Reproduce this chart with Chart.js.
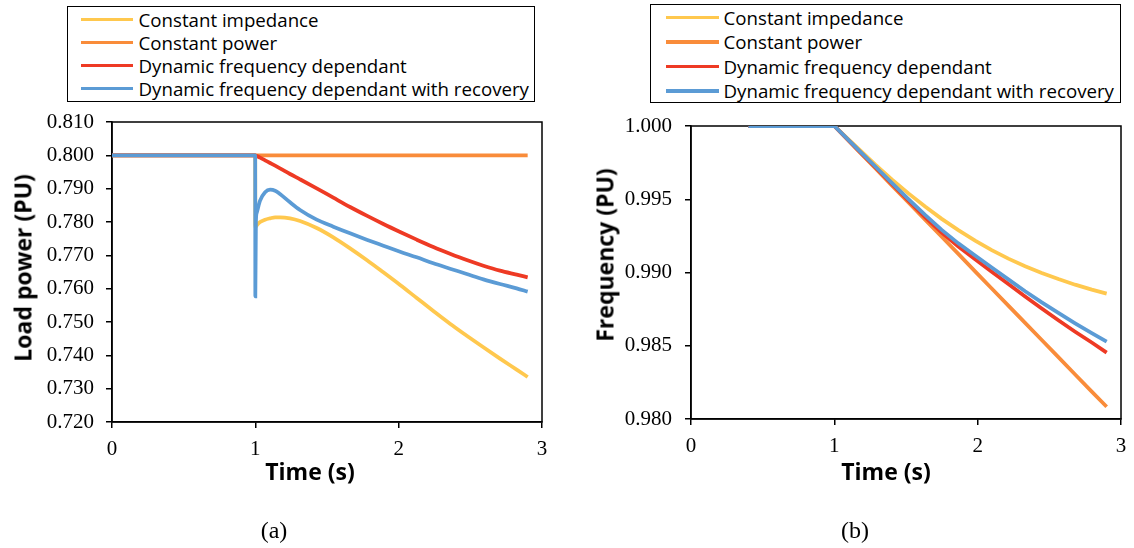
<!DOCTYPE html>
<html>
<head>
<meta charset="utf-8">
<title>Load power and frequency response</title>
<script src="https://cdn.jsdelivr.net/npm/chart.js@4.4.1/dist/chart.umd.min.js"></script>
<style>
  html, body { margin: 0; padding: 0; background: #fff; }
  body { position: relative; width: 1134px; height: 548px; overflow: hidden; }
  canvas { position: absolute; top: 110px; }
  #chartA { left: 0; }
  #chartB { left: 567px; }
  .legend {
    position: absolute; box-sizing: border-box; border: 1.5px solid #000; background: #fff;
    font-family: 'Open Sans', sans-serif; font-size: 18.7px; color: #000;
  }
  .legend .row { display: flex; align-items: center; white-space: nowrap; }
  .legend .swatch { flex: none; height: 3.5px; }
  .axis-title {
    position: absolute; font-family: 'Open Sans', sans-serif; font-weight: bold; font-size: 23px;
    line-height: 1; white-space: nowrap; color: #000; transform: translate(-50%, -50%);
  }
  .axis-title.vertical { transform: translate(-50%, -50%) rotate(-90deg); }
  .caption {
    position: absolute; font-family: 'Liberation Serif', 'Times New Roman', serif; font-size: 24px;
    line-height: 1; color: #000; transform: translate(-50%, -50%);
  }
</style>
</head>
<body>
<canvas id="chartA" width="567" height="390" style="width:567px;height:390px"></canvas>
<canvas id="chartB" width="567" height="390" style="width:567px;height:390px"></canvas>

<div id="legendA" class="legend" style="left:67px; top:6px; width:468px; height:96px; padding-top:1px;"></div>
<div id="legendB" class="legend" style="left:650px; top:4px; width:471px; height:99px; padding-top:0;"></div>

<div class="axis-title vertical" style="left:23px; top:268px;">Load power (PU)</div>
<div class="axis-title" style="left:310px; top:471px;">Time (s)</div>
<div class="axis-title vertical" style="left:605px; top:255px;">Frequency (PU)</div>
<div class="axis-title" style="left:886px; top:471px;">Time (s)</div>

<div class="caption" style="left:274px; top:530px;">(a)</div>
<div class="caption" style="left:855px; top:530px;">(b)</div>

<script>
// series shared by both plots
const seriesNames = [
  'Constant impedance',
  'Constant power',
  'Dynamic frequency dependant',
  'Dynamic frequency dependant with recovery'
];
const seriesColors = ['#FFC84E', '#F98C3A', '#EE3A24', '#5B9BD5'];

// (a) load power, PU
const timeLoad = [0, 0.999, 1.0, 1.004, 1.01, 1.033, 1.068, 1.103, 1.138, 1.172, 1.242, 1.312, 1.428,
                  1.544, 1.661, 1.777, 1.893, 2.01, 2.126, 2.242, 2.358, 2.475, 2.591, 2.707, 2.823, 2.9];
const loadImpedance = [0.800, 0.800, 0.7784, 0.7786, 0.7790, 0.7800, 0.7807, 0.7811, 0.7814, 0.7814, 0.7811,
                       0.7803, 0.7782, 0.7754, 0.7721, 0.7686, 0.7649, 0.7611, 0.7572, 0.7533, 0.7495,
                       0.7459, 0.7424, 0.7390, 0.7357, 0.7335];
const loadConstPower = [0.800, 0.800, 0.800, 0.800, 0.800, 0.800, 0.800, 0.800, 0.800, 0.800, 0.800, 0.800,
                        0.800, 0.800, 0.800, 0.800, 0.800, 0.800, 0.800, 0.800, 0.800, 0.800, 0.800, 0.800,
                        0.800, 0.800];
const loadFreqDep = [0.800, 0.800, 0.800, 0.7999, 0.7998, 0.7993, 0.7985, 0.7977, 0.7969, 0.7961, 0.7944,
                     0.7928, 0.7901, 0.7873, 0.7845, 0.7819, 0.7794, 0.7770, 0.7747, 0.7725, 0.7705,
                     0.7686, 0.7669, 0.7654, 0.7642, 0.7634];
const loadFreqDepRecovery = [0.800, 0.800, 0.7577, 0.7800, 0.7828, 0.7864, 0.7889, 0.7897, 0.7894, 0.7884,
                             0.7859, 0.7836, 0.7807, 0.7786, 0.7766, 0.7747, 0.7729, 0.7711, 0.7694, 0.7676,
                             0.7660, 0.7644, 0.7628, 0.7614, 0.7601, 0.7591];

// (b) frequency, PU
const timeFreq = [0.4, 1.0, 1.168, 1.284, 1.401, 1.517, 1.633, 1.749, 1.865, 1.982, 2.098, 2.214, 2.331,
                  2.447, 2.563, 2.68, 2.796, 2.9];
const freqImpedance = [1.000, 1.000, 0.99845, 0.99738, 0.99636, 0.99540, 0.99450, 0.99366, 0.99289, 0.99218,
                       0.99153, 0.99095, 0.99043, 0.98997, 0.98955, 0.98917, 0.98883, 0.98856];
const freqConstPower = [1.000, 1.000, 0.99830, 0.99713, 0.99595, 0.99478, 0.99361, 0.99244, 0.99127, 0.99008,
                        0.98891, 0.98774, 0.98656, 0.98539, 0.98422, 0.98304, 0.98187, 0.98084];
const freqFreqDep = [1.000, 1.000, 0.99834, 0.99720, 0.99604, 0.99490, 0.99378, 0.99272, 0.99177, 0.99090,
                     0.99005, 0.98921, 0.98836, 0.98754, 0.98674, 0.98596, 0.98522, 0.98453];
const freqFreqDepRecovery = [1.000, 1.000, 0.99837, 0.99725, 0.99612, 0.99501, 0.99393, 0.99291, 0.99199,
                             0.99116, 0.99034, 0.98953, 0.98872, 0.98796, 0.98724, 0.98653, 0.98586, 0.98528];

// axis ranges
const timeMin = 0, timeMax = 3, timeStep = 1;
const loadMin = 0.72, loadMax = 0.81, loadStep = 0.01;
const freqMin = 0.98, freqMax = 1.0, freqStep = 0.005;

const tickFont = { family: "'Liberation Serif', 'Times New Roman', serif", size: 21 };

function makeDatasets(time, seriesValues, smooth) {
  return seriesValues.map((values, i) => ({
    label: seriesNames[i],
    data: time.map((t, j) => ({ x: t, y: values[j] })),
    borderColor: seriesColors[i],
    backgroundColor: seriesColors[i],
    borderWidth: 3.75,
    pointRadius: 0,
    cubicInterpolationMode: smooth ? 'monotone' : 'default',
    tension: 0,
    order: seriesValues.length - i   // later series sit on top
  }));
}

// black box round the plot area, under the lines
const plotFrame = {
  id: 'plotFrame',
  beforeDatasetsDraw(chart) {
    const { ctx, chartArea: a } = chart;
    ctx.save();
    ctx.strokeStyle = '#000';
    ctx.lineWidth = 1.5;
    ctx.strokeRect(a.left, a.top, a.right - a.left, a.bottom - a.top);
    ctx.restore();
  }
};

function axisStyle() {
  return {
    grid: { drawOnChartArea: false, drawTicks: true, tickLength: 6, color: '#000', lineWidth: 1.5 },
    border: { display: true, color: '#000', width: 1.5 }
  };
}

function makeChart(id, time, seriesValues, y, box, smooth) {
  return new Chart(document.getElementById(id), {
    type: 'line',
    data: { datasets: makeDatasets(time, seriesValues, smooth) },
    options: {
      responsive: false,
      animation: false,
      events: [],
      layout: { padding: { top: box.top, right: box.right, left: 0, bottom: 0 } },
      plugins: { legend: { display: false }, tooltip: { enabled: false } },
      scales: {
        x: {
          type: 'linear',
          min: timeMin,
          max: timeMax,
          ...axisStyle(),
          ticks: { stepSize: timeStep, font: tickFont, color: '#000', padding: 9, maxRotation: 0 },
          afterFit: s => { s.height = box.xHeight; s.paddingLeft = 0; s.paddingRight = 0; }
        },
        y: {
          type: 'linear',
          min: y.min,
          max: y.max,
          ...axisStyle(),
          ticks: {
            stepSize: y.step, font: tickFont, color: '#000', padding: box.yPad,
            callback: v => v.toFixed(3)
          },
          afterFit: s => { s.width = box.yWidth; s.paddingTop = 0; s.paddingBottom = 0; }
        }
      }
    },
    plugins: [plotFrame]
  });
}

const chartA = makeChart('chartA', timeLoad,
  [loadImpedance, loadConstPower, loadFreqDep, loadFreqDepRecovery],
  { min: loadMin, max: loadMax, step: loadStep },
  { top: 12, right: 25, xHeight: 78, yWidth: 112, yPad: 12 }, true);

const chartB = makeChart('chartB', timeFreq,
  [freqImpedance, freqConstPower, freqFreqDep, freqFreqDepRecovery],
  { min: freqMin, max: freqMax, step: freqStep },
  { top: 16, right: 13, xHeight: 81, yWidth: 124, yPad: 13 }, false);

// boxed legends, one row per series
function buildLegend(elId, chart, rowHeight, lineLeft, lineLength, gap) {
  const el = document.getElementById(elId);
  chart.data.datasets.forEach(ds => {
    const row = document.createElement('div');
    row.className = 'row';
    row.style.height = rowHeight + 'px';
    const swatch = document.createElement('span');
    swatch.className = 'swatch';
    swatch.style.background = ds.borderColor;
    swatch.style.width = lineLength + 'px';
    swatch.style.marginLeft = lineLeft + 'px';
    swatch.style.marginRight = gap + 'px';
    const text = document.createElement('span');
    text.textContent = ds.label;
    row.appendChild(swatch);
    row.appendChild(text);
    el.appendChild(row);
  });
}

buildLegend('legendA', chartA, 23, 12.5, 52, 6);
buildLegend('legendB', chartB, 24.5, 14.5, 53, 5);
</script>
</body>
</html>
